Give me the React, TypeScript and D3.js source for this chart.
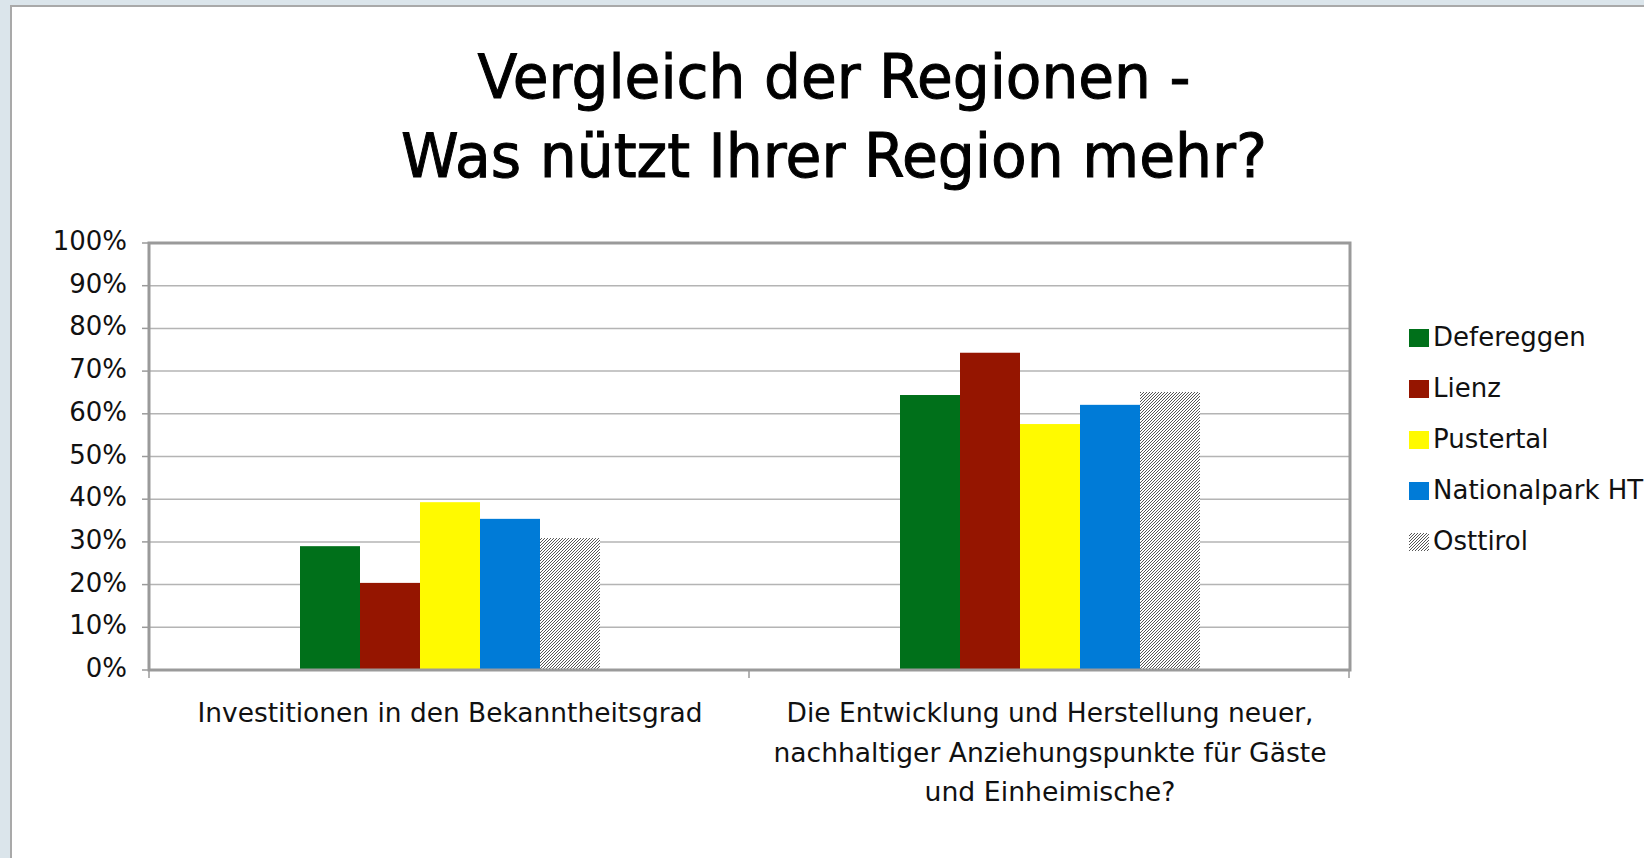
import React from "react";
import * as d3 from "d3";

const categories = [
  ["Investitionen in den Bekanntheitsgrad"],
  [
    "Die Entwicklung und Herstellung neuer,",
    "nachhaltiger Anziehungspunkte für Gäste",
    "und Einheimische?",
  ],
];
const categoryKeys = ["Bekanntheitsgrad", "Anziehungspunkte"];
const seriesNames = ["Defereggen", "Lienz", "Pustertal", "Nationalpark HT", "Osttirol"];
const defereggen = [29.0, 64.4];
const lienz = [20.4, 74.3];
const pustertal = [39.3, 57.6];
const nationalpark = [35.4, 62.1];
const osttirol = [30.9, 65.1];
const yTicks = [0, 10, 20, 30, 40, 50, 60, 70, 80, 90, 100];
const titleLines = ["Vergleich der Regionen -", "Was nützt Ihrer Region mehr?"];

const seriesValues = [defereggen, lienz, pustertal, nationalpark, osttirol];
const colors = ["#00701a", "#951500", "#fffa00", "#007bd7", "url(#hatch)"];

const W = 1644;
const H = 858;
const plot = { left: 150, right: 1350, top: 243, bottom: 670 };
const FONT = "'DejaVu Sans', 'Lucida Grande', sans-serif";

export default function App() {
  const x0 = d3.scaleBand<string>().domain(categoryKeys).range([plot.left, plot.right]).paddingInner(0).paddingOuter(0);
  const bw = x0.bandwidth();
  const x1 = d3.scaleBand<string>().domain(seriesNames).range([bw * 0.25, bw * 0.75]).padding(0);
  const y = d3.scaleLinear().domain([0, 100]).range([plot.bottom, plot.top]);

  const titleWidths = [713, 866];
  const catWidths = [[505], [527, 553, 251]];

  return (
    <svg
      width={W}
      height={H}
      style={{ position: "absolute", left: 0, top: 0, display: "block" }}
      fontFamily={FONT}
    >
      <defs>
        <pattern id="hatch" patternUnits="userSpaceOnUse" width={3} height={3}>
          <rect width={3} height={3} fill="#ffffff" />
          <path d="M-1,1 l2,-2 M0,3 l3,-3 M2,4 l2,-2" stroke="#555555" strokeWidth={1} />
        </pattern>
      </defs>
      <rect x={0} y={0} width={W} height={H} fill="#dbe5eb" />
      <rect x={11} y={6} width={W + 20} height={H + 20} fill="#ffffff" stroke="#a9a9a9" strokeWidth={2} />

      {titleLines.map((t, i) => (
        <text
          key={t}
          x={834}
          y={98 + i * 79}
          textAnchor="middle"
          fontSize={60}
          fill="#000"
          stroke="#000"
          strokeWidth={1}
          textLength={titleWidths[i]}
          lengthAdjust="spacingAndGlyphs"
        >
          {t}
        </text>
      ))}

      {/* gridlines */}
      {yTicks.map((t) => (
        <line key={"g" + t} x1={plot.left} x2={plot.right} y1={y(t)} y2={y(t)} stroke="#b4b4b4" strokeWidth={1.5} />
      ))}

      {/* bars */}
      {categoryKeys.map((c, ci) => (
        <g key={c} transform={`translate(${x0(c)},0)`}>
          {seriesNames.map((s, si) => (
            <rect
              key={s}
              x={x1(s)}
              y={y(seriesValues[si][ci])}
              width={x1.bandwidth()}
              height={y(0) - y(seriesValues[si][ci])}
              fill={colors[si]}
            />
          ))}
        </g>
      ))}

      {/* plot frame */}
      <rect
        x={plot.left - 1}
        y={plot.top}
        width={plot.right - plot.left + 1}
        height={plot.bottom - plot.top}
        fill="none"
        stroke="#9a9a9a"
        strokeWidth={3}
      />

      {/* y ticks */}
      {yTicks.map((t) => (
        <g key={"t" + t}>
          <line x1={plot.left - 8} x2={plot.left - 1} y1={y(t)} y2={y(t)} stroke="#9a9a9a" strokeWidth={1.5} />
          <text x={127} y={y(t) + 7} textAnchor="end" fontSize={26} fill="#111">
            {t + "%"}
          </text>
        </g>
      ))}

      {/* x ticks */}
      {[...categoryKeys.map((c) => x0(c) as number), plot.right].map((xv, i) => (
        <line key={"xt" + i} x1={xv - 1} x2={xv - 1} y1={plot.bottom} y2={plot.bottom + 8} stroke="#9a9a9a" strokeWidth={1.5} />
      ))}

      {/* category labels */}
      {categoryKeys.map((c, ci) =>
        categories[ci].map((line, li) => (
          <text
            key={c + li}
            x={(x0(c) as number) + bw / 2}
            y={722 + li * 39.5}
            textAnchor="middle"
            fontSize={26}
            fill="#111"
            textLength={catWidths[ci][li]}
            lengthAdjust="spacingAndGlyphs"
          >
            {line}
          </text>
        ))
      )}

      {/* legend */}
      {seriesNames.map((s, si) => (
        <g key={"l" + s} transform={`translate(1409, ${329 + si * 51})`}>
          <rect x={0} y={0} width={20} height={18} fill={colors[si]} />
          <text x={24} y={17} fontSize={26} fill="#111">
            {s}
          </text>
        </g>
      ))}
    </svg>
  );
}
